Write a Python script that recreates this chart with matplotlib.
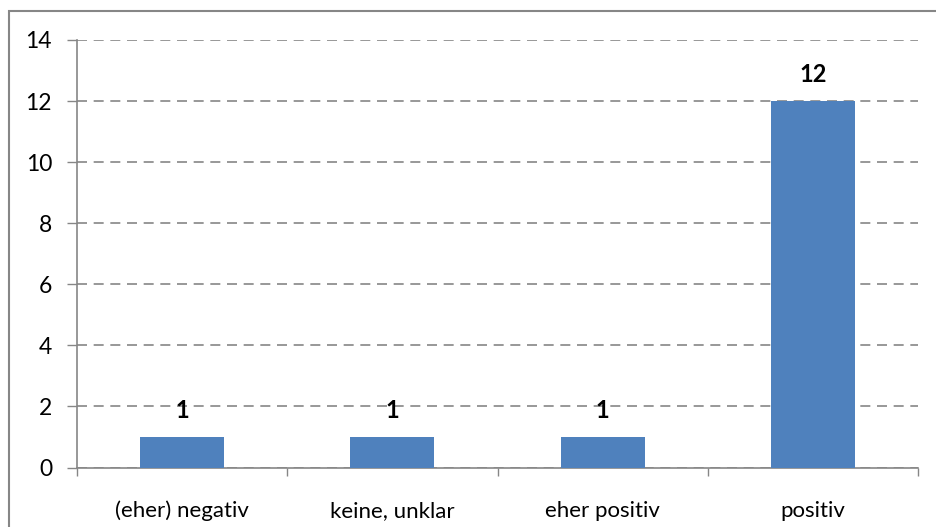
import matplotlib.pyplot as plt
from matplotlib.patches import Rectangle

categories = ['(eher) negativ', 'keine, unklar', 'eher positiv', 'positiv']
counts = [1, 1, 1, 12]
yticks = [0, 2, 4, 6, 8, 10, 12, 14]

plt.rcParams['font.family'] = ['Lato', 'DejaVu Sans']

fig = plt.figure(figsize=(9.36, 5.27), dpi=100)
ax = fig.add_axes([77 / 936, 1 - 467.5 / 527, (918 - 77) / 936, (467.5 - 40) / 527])

grey = '#868686'
x = range(len(categories))
ax.bar(x, counts, width=0.4, color='#4F81BD', zorder=3)

for i, v in enumerate(counts):
    ax.text(i, v + 0.5, str(v), ha='center', va='bottom', fontsize=17, fontweight='bold', zorder=4)

ax.set_xlim(-0.5, len(categories) - 0.5)
ax.set_ylim(0, 14)
ax.set_yticks(yticks)
ax.tick_params(axis='y', labelsize=16.5, length=7, width=1, color=grey, pad=11)
ax.yaxis.grid(True, linestyle=(0, (6, 4)), color=grey, linewidth=1.2, zorder=0)

# category labels between the boundary ticks
ax.set_xticks(list(x))
ax.set_xticklabels(categories, fontsize=16)
ax.tick_params(axis='x', length=0, pad=24)
ax.set_xticks([i - 0.5 for i in range(len(categories) + 1)], minor=True)
ax.tick_params(axis='x', which='minor', length=6, width=1, color=grey)

for side in ['top', 'right']:
    ax.spines[side].set_visible(False)
for side in ['left', 'bottom']:
    ax.spines[side].set_color(grey)
    ax.spines[side].set_linewidth(1.2)

# chart area frame
fig.patches.append(Rectangle((9 / 936, -0.1), 1.2, 1 - 11 / 527 + 0.1, transform=fig.transFigure,
                             fill=False, edgecolor=grey, linewidth=1.5))

fig.savefig('out.png', dpi=100)
